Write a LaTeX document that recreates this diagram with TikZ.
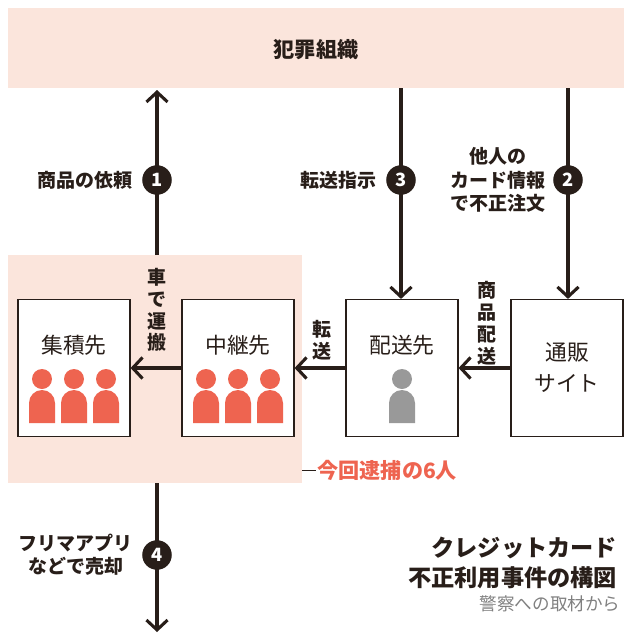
\documentclass[tikz,border=0pt]{standalone}
\usepackage{fontspec}
\setmainfont{Noto Sans CJK JP}
\usetikzlibrary{arrows.meta,positioning}
\definecolor{pinkbg}{RGB}{251,229,220}
\definecolor{coral}{RGB}{238,100,80}
\definecolor{darkline}{RGB}{40,30,25}
\tikzset{
  box/.style={draw=darkline,thick,fill=white,minimum width=2.8cm,minimum height=3.425cm,inner sep=0},
  flow/.style={-{Straight Barb[length=7pt,width=15pt,line width=2.2pt]},line width=3.2pt,draw=darkline},
  num/.style={circle,fill=darkline,text=white,inner sep=0,minimum size=21,font=\bfseries\fontsize{13}{13}\selectfont},
  lbl/.style={font=\bfseries\fontsize{13.5}{16.5}\selectfont,align=center,text=darkline},
  vlbl/.style={font=\bfseries\fontsize{13.5}{15.5}\selectfont,align=center,text=darkline,inner sep=1pt},
  boxlbl/.style={font=\fontsize{15.5}{19}\selectfont,align=center,text=darkline}
}
\newcommand{\person}[2]{%
  \fill[#2] (#1)+(0,-16) circle (10);
  \fill[#2] (#1) ++(-13,28) -- ++(0,-20) arc (180:360:13) -- ++(0,20) -- cycle;}
\begin{document}
\begin{tikzpicture}[x=0.025cm,y=-0.025cm]
\useasboundingbox (0,0) rectangle (632,640);
% backgrounds
\fill[pinkbg] (8,8) rectangle (624,88);
\node[lbl,font=\bfseries\fontsize{15}{17}\selectfont] (crime) at (316,50) {犯罪組織};
\fill[pinkbg] (8,255) rectangle (302,483);
% boxes
\node[box] (collect) at (74,368) {};
\node[box] (relay) at (238,368) {};
\node[box] (deliver) at (402,368) {};
\node[box] (shop) at (567,368) {};
\node[boxlbl] at (74,345) {集積先};
\node[boxlbl] at (238,345) {中継先};
\node[boxlbl] at (402,345) {配送先};
\node[boxlbl,font=\fontsize{15.5}{22}\selectfont] at (567,368) {通販\\サイト};
\foreach \dx in {-32,0,32} {
  \coordinate (p) at (74+\dx,395); \person{p}{coral}
  \coordinate (q) at (238+\dx,395); \person{q}{coral}
}
\coordinate (g) at (402,395); \person{g}{gray!80}
% connectors
\coordinate (up1) at (157,255);
\coordinate (top1) at (157,90);
\coordinate (top3) at (401,88);
\coordinate (top2) at (568,88);
\draw[flow] (up1) -- (top1);
\draw[flow] (top3) -- (top3 |- deliver.north);
\draw[flow] (top2) -- (top2 |- shop.north);
\draw[flow] (shop) -- (deliver.east);
\draw[flow] (deliver) -- (relay.east);
\draw[flow] (relay.west) -- (collect.east);
\coordinate (down4) at (157,483);
\coordinate (end4) at (157,632);
\draw[flow] (down4) -- (end4);
% numbers and labels
\node[num] (n1) at (157,180) {1};
\node[num] (n3) at (401,180) {3};
\node[num] (n2) at (568,180) {2};
\node[num] (n4) at (157,555) {4};
\node[lbl,left=3pt of n1] {商品の依頼};
\node[lbl,left=3pt of n3] {転送指示};
\node[lbl,left=2pt of n2] {他人の\\カード情報\\で不正注文};
\node[lbl,left=3pt of n4] {フリマアプリ\\などで売却};
\node[vlbl] at (157,310) {車\\で\\運\\搬};
\node[vlbl] at (322,340) {転\\送};
\node[vlbl] at (487,323) {商\\品\\配\\送};
% caption
\coordinate (dash) at (302,470);
\draw[darkline] (dash) -- ++(14,0) node[right=0pt,text=coral,font=\bfseries\fontsize{15}{17}\selectfont,inner sep=1pt] {今回逮捕の6人};
\node[anchor=east,font=\bfseries\fontsize{16.5}{21}\selectfont,align=right,text=darkline] (title) at (622,563) {クレジットカード\\不正利用事件の構図};
\node[anchor=north east,font=\fontsize{12.5}{14}\selectfont,text=gray,inner sep=1pt] at (title.south east) {警察への取材から};
\end{tikzpicture}
\end{document}
